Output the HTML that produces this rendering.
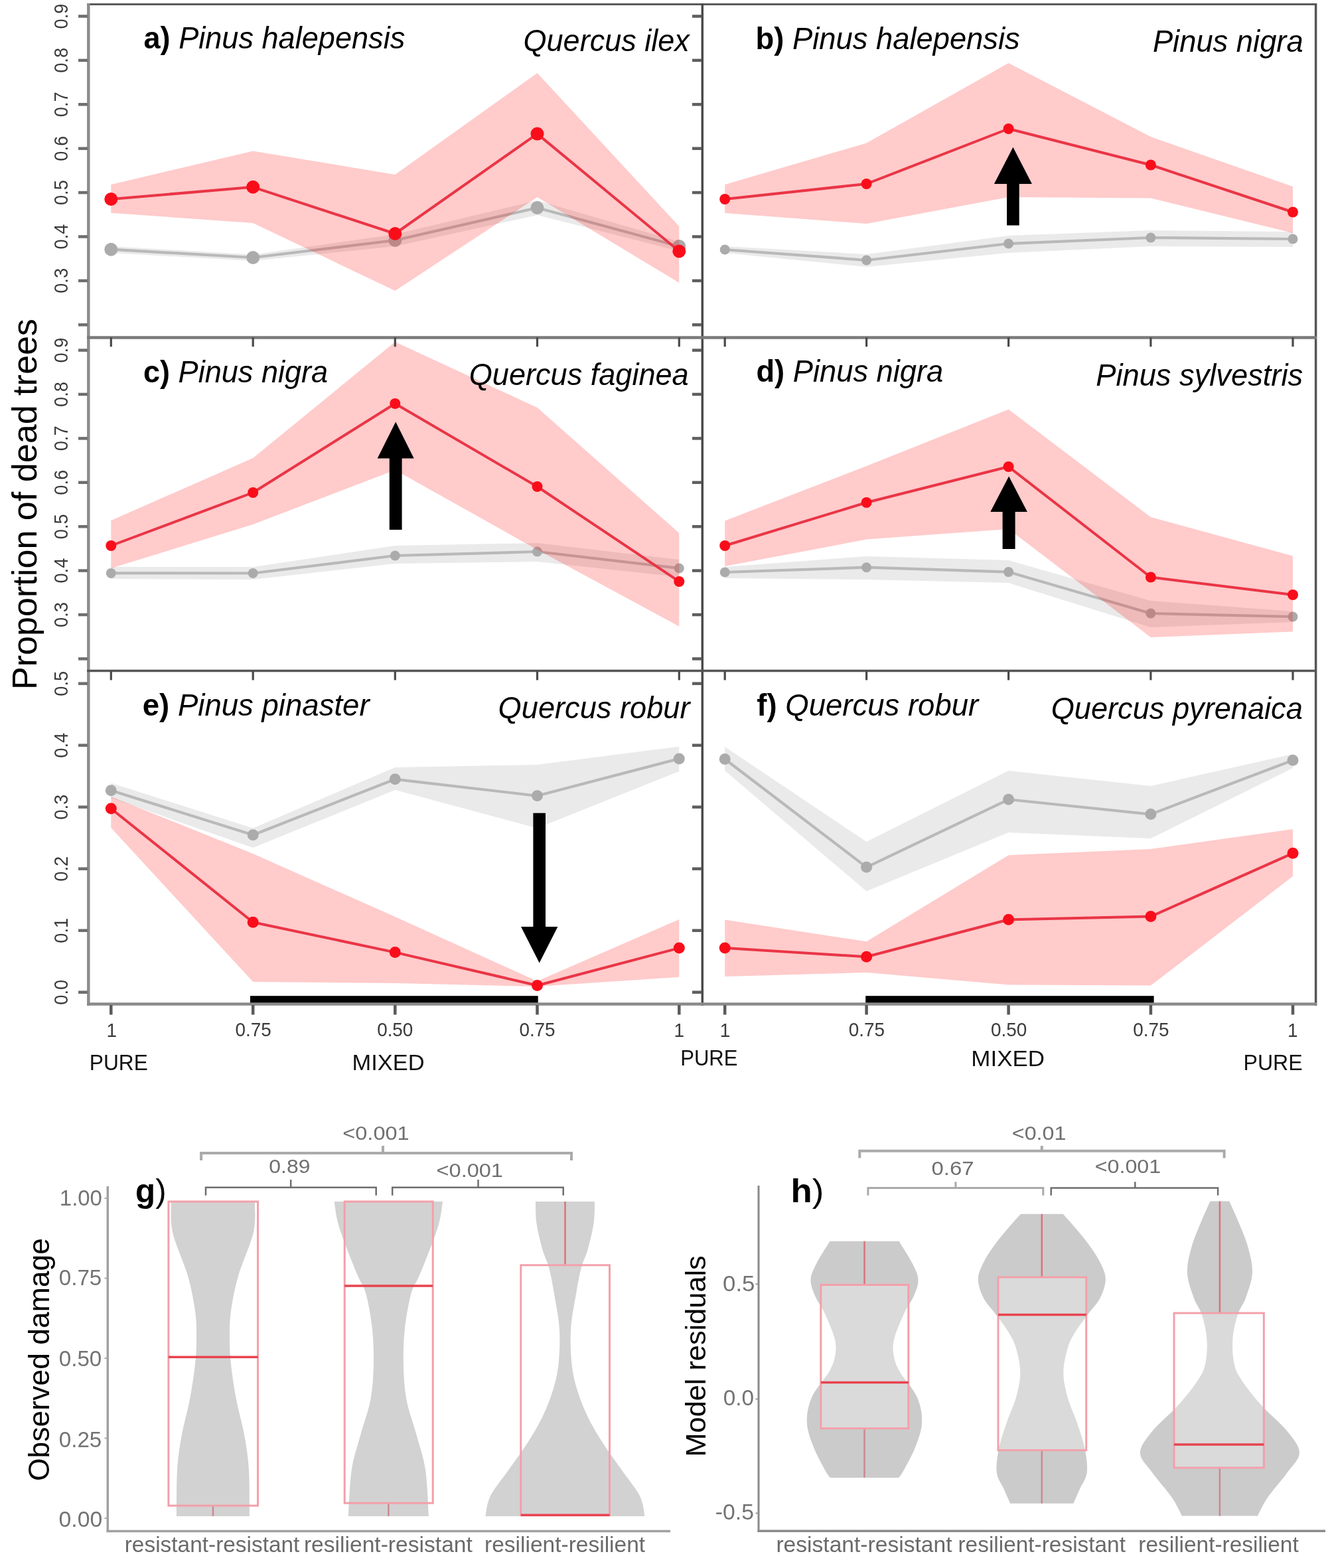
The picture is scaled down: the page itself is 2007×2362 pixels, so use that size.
<!DOCTYPE html><html><head><meta charset="utf-8"><title>Figure</title><style>html,body{margin:0;padding:0;background:#fff;}svg{display:block;}text{font-family:"Liberation Sans",Arial,sans-serif;}</style></head><body>
<svg width="2007" height="2362" viewBox="0 0 2007 2362">
<rect width="2007" height="2362" fill="#fff"/>
<g id="pa">
<polygon points="167.3,371.0 381.2,383.5 595.3,353.0 809.5,302.0 1023.3,364.0 1023.3,378.0 809.5,324.0 595.3,371.0 381.2,393.0 167.3,381.0" fill="#eaeaea" fill-opacity="1.0"/>
<polyline points="167.3,375.7 381.2,388.0 595.3,362.0 809.5,313.0 1023.3,371.0" fill="none" stroke="#b9b9b9" stroke-width="4.2" stroke-linejoin="round"/>
<circle cx="167.3" cy="375.7" r="10" fill="#ababab"/>
<circle cx="381.2" cy="388.0" r="10" fill="#ababab"/>
<circle cx="595.3" cy="362.0" r="10" fill="#ababab"/>
<circle cx="809.5" cy="313.0" r="10" fill="#ababab"/>
<circle cx="1023.3" cy="371.0" r="10" fill="#ababab"/>
<polygon points="167.3,278.0 381.2,227.5 595.3,263.0 809.5,110.0 1023.3,341.0 1023.3,426.0 809.5,297.0 595.3,438.0 381.2,336.0 167.3,320.7" fill="#ff0000" fill-opacity="0.205"/>
<polyline points="167.3,300.0 381.2,281.8 595.3,352.0 809.5,201.6 1023.3,378.4" fill="none" stroke="#ea3546" stroke-width="4" stroke-linejoin="round"/>
<circle cx="167.3" cy="300.0" r="10" fill="#fa0d1a"/>
<circle cx="381.2" cy="281.8" r="10" fill="#fa0d1a"/>
<circle cx="595.3" cy="352.0" r="10" fill="#fa0d1a"/>
<circle cx="809.5" cy="201.6" r="10" fill="#fa0d1a"/>
<circle cx="1023.3" cy="378.4" r="10" fill="#fa0d1a"/>
</g>
<g id="pb">
<polygon points="1092.2,371.0 1305.6,383.0 1519.6,355.0 1733.9,347.0 1948.0,349.0 1948.0,372.0 1733.9,371.0 1519.6,381.0 1305.6,402.0 1092.2,381.0" fill="#eaeaea" fill-opacity="1.0"/>
<polyline points="1092.2,376.0 1305.6,392.0 1519.6,367.0 1733.9,358.0 1948.0,360.0" fill="none" stroke="#b9b9b9" stroke-width="4.2" stroke-linejoin="round"/>
<circle cx="1092.2" cy="376.0" r="7.5" fill="#ababab"/>
<circle cx="1305.6" cy="392.0" r="7.5" fill="#ababab"/>
<circle cx="1519.6" cy="367.0" r="7.5" fill="#ababab"/>
<circle cx="1733.9" cy="358.0" r="7.5" fill="#ababab"/>
<circle cx="1948.0" cy="360.0" r="7.5" fill="#ababab"/>
<polygon points="1092.2,278.0 1305.6,215.5 1519.6,95.0 1733.9,206.0 1948.0,281.0 1948.0,351.0 1733.9,298.5 1519.6,297.0 1305.6,337.0 1092.2,321.0" fill="#ff0000" fill-opacity="0.205"/>
<polyline points="1092.2,300.0 1305.6,277.0 1519.6,194.0 1733.9,248.5 1948.0,319.5" fill="none" stroke="#ea3546" stroke-width="4" stroke-linejoin="round"/>
<circle cx="1092.2" cy="300.0" r="8" fill="#fa0d1a"/>
<circle cx="1305.6" cy="277.0" r="8" fill="#fa0d1a"/>
<circle cx="1519.6" cy="194.0" r="8" fill="#fa0d1a"/>
<circle cx="1733.9" cy="248.5" r="8" fill="#fa0d1a"/>
<circle cx="1948.0" cy="319.5" r="8" fill="#fa0d1a"/>
<polygon points="1526.4,221.8 1554.9,277.0 1535.7,277.0 1535.7,339.6 1517.1,339.6 1517.1,277.0 1497.9,277.0" fill="#000"/>
</g>
<g id="pc">
<polygon points="167.3,854.0 381.2,854.0 595.3,822.0 809.5,818.0 1023.3,843.0 1023.3,869.0 809.5,846.0 595.3,849.0 381.2,873.0 167.3,872.0" fill="#eaeaea" fill-opacity="1.0"/>
<polyline points="167.3,863.4 381.2,863.5 595.3,837.0 809.5,831.0 1023.3,856.0" fill="none" stroke="#b9b9b9" stroke-width="4.2" stroke-linejoin="round"/>
<circle cx="167.3" cy="863.4" r="7.5" fill="#ababab"/>
<circle cx="381.2" cy="863.5" r="7.5" fill="#ababab"/>
<circle cx="595.3" cy="837.0" r="7.5" fill="#ababab"/>
<circle cx="809.5" cy="831.0" r="7.5" fill="#ababab"/>
<circle cx="1023.3" cy="856.0" r="7.5" fill="#ababab"/>
<polygon points="167.3,784.0 381.2,690.0 595.3,515.0 809.5,614.0 1023.3,803.0 1023.3,943.6 809.5,828.0 595.3,708.0 381.2,790.0 167.3,856.0" fill="#ff0000" fill-opacity="0.205"/>
<polyline points="167.3,822.0 381.2,742.0 595.3,608.0 809.5,733.0 1023.3,876.0" fill="none" stroke="#ea3546" stroke-width="4" stroke-linejoin="round"/>
<circle cx="167.3" cy="822.0" r="8" fill="#fa0d1a"/>
<circle cx="381.2" cy="742.0" r="8" fill="#fa0d1a"/>
<circle cx="595.3" cy="608.0" r="8" fill="#fa0d1a"/>
<circle cx="809.5" cy="733.0" r="8" fill="#fa0d1a"/>
<circle cx="1023.3" cy="876.0" r="8" fill="#fa0d1a"/>
<polygon points="596.2,635.4 623.7,690.5 605.6,690.5 605.6,798.0 586.8,798.0 586.8,690.5 568.7,690.5" fill="#000"/>
</g>
<g id="pd">
<polygon points="1092.2,854.0 1305.6,838.0 1519.6,844.0 1733.9,905.0 1948.0,921.0 1948.0,937.0 1733.9,945.0 1519.6,878.0 1305.6,873.0 1092.2,871.0" fill="#eaeaea" fill-opacity="1.0"/>
<polyline points="1092.2,862.0 1305.6,854.7 1519.6,861.6 1733.9,924.0 1948.0,929.0" fill="none" stroke="#b9b9b9" stroke-width="4.2" stroke-linejoin="round"/>
<circle cx="1092.2" cy="862.0" r="7.5" fill="#ababab"/>
<circle cx="1305.6" cy="854.7" r="7.5" fill="#ababab"/>
<circle cx="1519.6" cy="861.6" r="7.5" fill="#ababab"/>
<circle cx="1733.9" cy="924.0" r="7.5" fill="#ababab"/>
<circle cx="1948.0" cy="929.0" r="7.5" fill="#ababab"/>
<polygon points="1092.2,784.5 1305.6,702.0 1519.6,616.7 1733.9,779.0 1948.0,837.5 1948.0,951.5 1733.9,960.0 1519.6,797.0 1305.6,812.5 1092.2,853.0" fill="#ff0000" fill-opacity="0.205"/>
<polyline points="1092.2,822.0 1305.6,757.0 1519.6,703.0 1733.9,869.5 1948.0,896.0" fill="none" stroke="#ea3546" stroke-width="4" stroke-linejoin="round"/>
<circle cx="1092.2" cy="822.0" r="8" fill="#fa0d1a"/>
<circle cx="1305.6" cy="757.0" r="8" fill="#fa0d1a"/>
<circle cx="1519.6" cy="703.0" r="8" fill="#fa0d1a"/>
<circle cx="1733.9" cy="869.5" r="8" fill="#fa0d1a"/>
<circle cx="1948.0" cy="896.0" r="8" fill="#fa0d1a"/>
<polygon points="1520.1,717.6 1547.9,771.0 1529.6,771.0 1529.6,827.0 1510.6,827.0 1510.6,771.0 1492.3,771.0" fill="#000"/>
</g>
<g id="pe">
<polygon points="167.3,1179.5 381.2,1247.5 595.3,1156.0 809.5,1152.0 1023.3,1124.5 1023.3,1162.0 809.5,1247.5 595.3,1190.0 381.2,1277.0 167.3,1202.0" fill="#eaeaea" fill-opacity="1.0"/>
<polyline points="167.3,1190.8 381.2,1257.7 595.3,1173.8 809.5,1198.8 1023.3,1142.9" fill="none" stroke="#b9b9b9" stroke-width="4.2" stroke-linejoin="round"/>
<circle cx="167.3" cy="1190.8" r="8.5" fill="#ababab"/>
<circle cx="381.2" cy="1257.7" r="8.5" fill="#ababab"/>
<circle cx="595.3" cy="1173.8" r="8.5" fill="#ababab"/>
<circle cx="809.5" cy="1198.8" r="8.5" fill="#ababab"/>
<circle cx="1023.3" cy="1142.9" r="8.5" fill="#ababab"/>
<polygon points="167.3,1200.0 381.2,1286.0 595.3,1381.0 809.5,1478.0 1023.3,1385.0 1023.3,1472.0 809.5,1486.0 595.3,1481.0 381.2,1479.0 167.3,1247.0" fill="#ff0000" fill-opacity="0.205"/>
<polyline points="167.3,1218.0 381.2,1389.2 595.3,1434.6 809.5,1484.5 1023.3,1428.1" fill="none" stroke="#ea3546" stroke-width="4" stroke-linejoin="round"/>
<circle cx="167.3" cy="1218.0" r="8.5" fill="#fa0d1a"/>
<circle cx="381.2" cy="1389.2" r="8.5" fill="#fa0d1a"/>
<circle cx="595.3" cy="1434.6" r="8.5" fill="#fa0d1a"/>
<circle cx="809.5" cy="1484.5" r="8.5" fill="#fa0d1a"/>
<circle cx="1023.3" cy="1428.1" r="8.5" fill="#fa0d1a"/>
<polygon points="812.7,1450.5 840.4,1396.0 822.0,1396.0 822.0,1224.8 803.4,1224.8 803.4,1396.0 785.0,1396.0" fill="#000"/>
<rect x="377" y="1500.2" width="433.7" height="12" fill="#000"/>
</g>
<g id="pf">
<polygon points="1092.2,1125.0 1305.6,1268.0 1519.6,1161.0 1733.9,1184.0 1948.0,1136.0 1948.0,1157.0 1733.9,1263.0 1519.6,1254.0 1305.6,1342.6 1092.2,1161.0" fill="#eaeaea" fill-opacity="1.0"/>
<polyline points="1092.2,1143.5 1305.6,1306.3 1519.6,1204.3 1733.9,1226.6 1948.0,1145.3" fill="none" stroke="#b9b9b9" stroke-width="4.2" stroke-linejoin="round"/>
<circle cx="1092.2" cy="1143.5" r="8.5" fill="#ababab"/>
<circle cx="1305.6" cy="1306.3" r="8.5" fill="#ababab"/>
<circle cx="1519.6" cy="1204.3" r="8.5" fill="#ababab"/>
<circle cx="1733.9" cy="1226.6" r="8.5" fill="#ababab"/>
<circle cx="1948.0" cy="1145.3" r="8.5" fill="#ababab"/>
<polygon points="1092.2,1385.5 1305.6,1418.3 1519.6,1288.2 1733.9,1279.0 1948.0,1249.0 1948.0,1320.0 1733.9,1484.6 1519.6,1483.5 1305.6,1465.0 1092.2,1471.0" fill="#ff0000" fill-opacity="0.205"/>
<polyline points="1092.2,1427.9 1305.6,1441.3 1519.6,1385.3 1733.9,1380.6 1948.0,1285.3" fill="none" stroke="#ea3546" stroke-width="4" stroke-linejoin="round"/>
<circle cx="1092.2" cy="1427.9" r="8.5" fill="#fa0d1a"/>
<circle cx="1305.6" cy="1441.3" r="8.5" fill="#fa0d1a"/>
<circle cx="1519.6" cy="1385.3" r="8.5" fill="#fa0d1a"/>
<circle cx="1733.9" cy="1380.6" r="8.5" fill="#fa0d1a"/>
<circle cx="1948.0" cy="1285.3" r="8.5" fill="#fa0d1a"/>
<rect x="1304.2" y="1500.2" width="434.4" height="12" fill="#000"/>
</g>
<g stroke-linecap="butt">
<line x1="131" y1="6.5" x2="1984" y2="6.5" stroke="#5a5a5a" stroke-width="3"/>
<line x1="133.3" y1="5" x2="133.3" y2="1515" stroke="#8c8c8c" stroke-width="4.5"/>
<line x1="1058.3" y1="5" x2="1058.3" y2="1515" stroke="#4a4a4a" stroke-width="3.5"/>
<line x1="1982.6" y1="5" x2="1982.6" y2="1515" stroke="#555" stroke-width="3.5"/>
<line x1="131" y1="508.6" x2="1984" y2="508.6" stroke="#7a7a7a" stroke-width="4.5"/>
<line x1="131" y1="1010.5" x2="1984" y2="1010.5" stroke="#555" stroke-width="3.5"/>
<line x1="131" y1="1512.6" x2="1984" y2="1512.6" stroke="#8a8a8a" stroke-width="4.5"/>
</g>
<line x1="118.0" y1="24.5" x2="132.0" y2="24.5" stroke="#6e6e6e" stroke-width="4.5"/>
<line x1="118.0" y1="90.9" x2="132.0" y2="90.9" stroke="#6e6e6e" stroke-width="4.5"/>
<line x1="118.0" y1="157.3" x2="132.0" y2="157.3" stroke="#6e6e6e" stroke-width="4.5"/>
<line x1="118.0" y1="223.7" x2="132.0" y2="223.7" stroke="#6e6e6e" stroke-width="4.5"/>
<line x1="118.0" y1="290.1" x2="132.0" y2="290.1" stroke="#6e6e6e" stroke-width="4.5"/>
<line x1="118.0" y1="356.5" x2="132.0" y2="356.5" stroke="#6e6e6e" stroke-width="4.5"/>
<line x1="118.0" y1="422.9" x2="132.0" y2="422.9" stroke="#6e6e6e" stroke-width="4.5"/>
<line x1="118.0" y1="489.3" x2="132.0" y2="489.3" stroke="#6e6e6e" stroke-width="4.5"/>
<line x1="118.0" y1="527.6" x2="132.0" y2="527.6" stroke="#6e6e6e" stroke-width="4.5"/>
<line x1="118.0" y1="594.0" x2="132.0" y2="594.0" stroke="#6e6e6e" stroke-width="4.5"/>
<line x1="118.0" y1="660.4" x2="132.0" y2="660.4" stroke="#6e6e6e" stroke-width="4.5"/>
<line x1="118.0" y1="726.8" x2="132.0" y2="726.8" stroke="#6e6e6e" stroke-width="4.5"/>
<line x1="118.0" y1="793.2" x2="132.0" y2="793.2" stroke="#6e6e6e" stroke-width="4.5"/>
<line x1="118.0" y1="859.6" x2="132.0" y2="859.6" stroke="#6e6e6e" stroke-width="4.5"/>
<line x1="118.0" y1="926.0" x2="132.0" y2="926.0" stroke="#6e6e6e" stroke-width="4.5"/>
<line x1="118.0" y1="992.4" x2="132.0" y2="992.4" stroke="#6e6e6e" stroke-width="4.5"/>
<line x1="118.0" y1="1029.7" x2="132.0" y2="1029.7" stroke="#6e6e6e" stroke-width="4.5"/>
<line x1="118.0" y1="1122.7" x2="132.0" y2="1122.7" stroke="#6e6e6e" stroke-width="4.5"/>
<line x1="118.0" y1="1215.7" x2="132.0" y2="1215.7" stroke="#6e6e6e" stroke-width="4.5"/>
<line x1="118.0" y1="1308.7" x2="132.0" y2="1308.7" stroke="#6e6e6e" stroke-width="4.5"/>
<line x1="118.0" y1="1401.7" x2="132.0" y2="1401.7" stroke="#6e6e6e" stroke-width="4.5"/>
<line x1="118.0" y1="1494.7" x2="132.0" y2="1494.7" stroke="#6e6e6e" stroke-width="4.5"/>
<line x1="1043.0" y1="24.5" x2="1057.0" y2="24.5" stroke="#5e5e5e" stroke-width="4.5"/>
<line x1="1043.0" y1="90.9" x2="1057.0" y2="90.9" stroke="#5e5e5e" stroke-width="4.5"/>
<line x1="1043.0" y1="157.3" x2="1057.0" y2="157.3" stroke="#5e5e5e" stroke-width="4.5"/>
<line x1="1043.0" y1="223.7" x2="1057.0" y2="223.7" stroke="#5e5e5e" stroke-width="4.5"/>
<line x1="1043.0" y1="290.1" x2="1057.0" y2="290.1" stroke="#5e5e5e" stroke-width="4.5"/>
<line x1="1043.0" y1="356.5" x2="1057.0" y2="356.5" stroke="#5e5e5e" stroke-width="4.5"/>
<line x1="1043.0" y1="422.9" x2="1057.0" y2="422.9" stroke="#5e5e5e" stroke-width="4.5"/>
<line x1="1043.0" y1="489.3" x2="1057.0" y2="489.3" stroke="#5e5e5e" stroke-width="4.5"/>
<line x1="1043.0" y1="527.6" x2="1057.0" y2="527.6" stroke="#5e5e5e" stroke-width="4.5"/>
<line x1="1043.0" y1="594.0" x2="1057.0" y2="594.0" stroke="#5e5e5e" stroke-width="4.5"/>
<line x1="1043.0" y1="660.4" x2="1057.0" y2="660.4" stroke="#5e5e5e" stroke-width="4.5"/>
<line x1="1043.0" y1="726.8" x2="1057.0" y2="726.8" stroke="#5e5e5e" stroke-width="4.5"/>
<line x1="1043.0" y1="793.2" x2="1057.0" y2="793.2" stroke="#5e5e5e" stroke-width="4.5"/>
<line x1="1043.0" y1="859.6" x2="1057.0" y2="859.6" stroke="#5e5e5e" stroke-width="4.5"/>
<line x1="1043.0" y1="926.0" x2="1057.0" y2="926.0" stroke="#5e5e5e" stroke-width="4.5"/>
<line x1="1043.0" y1="992.4" x2="1057.0" y2="992.4" stroke="#5e5e5e" stroke-width="4.5"/>
<line x1="1043.0" y1="1029.7" x2="1057.0" y2="1029.7" stroke="#5e5e5e" stroke-width="4.5"/>
<line x1="1043.0" y1="1122.7" x2="1057.0" y2="1122.7" stroke="#5e5e5e" stroke-width="4.5"/>
<line x1="1043.0" y1="1215.7" x2="1057.0" y2="1215.7" stroke="#5e5e5e" stroke-width="4.5"/>
<line x1="1043.0" y1="1308.7" x2="1057.0" y2="1308.7" stroke="#5e5e5e" stroke-width="4.5"/>
<line x1="1043.0" y1="1401.7" x2="1057.0" y2="1401.7" stroke="#5e5e5e" stroke-width="4.5"/>
<line x1="1043.0" y1="1494.7" x2="1057.0" y2="1494.7" stroke="#5e5e5e" stroke-width="4.5"/>
<line x1="167.3" y1="508.3" x2="167.3" y2="522.3" stroke="#4a4a4a" stroke-width="3.2"/>
<line x1="381.2" y1="508.3" x2="381.2" y2="522.3" stroke="#4a4a4a" stroke-width="3.2"/>
<line x1="595.3" y1="508.3" x2="595.3" y2="522.3" stroke="#4a4a4a" stroke-width="3.2"/>
<line x1="809.5" y1="508.3" x2="809.5" y2="522.3" stroke="#4a4a4a" stroke-width="3.2"/>
<line x1="1023.3" y1="508.3" x2="1023.3" y2="522.3" stroke="#4a4a4a" stroke-width="3.2"/>
<line x1="1092.2" y1="508.3" x2="1092.2" y2="522.3" stroke="#4a4a4a" stroke-width="3.2"/>
<line x1="1305.6" y1="508.3" x2="1305.6" y2="522.3" stroke="#4a4a4a" stroke-width="3.2"/>
<line x1="1519.6" y1="508.3" x2="1519.6" y2="522.3" stroke="#4a4a4a" stroke-width="3.2"/>
<line x1="1733.9" y1="508.3" x2="1733.9" y2="522.3" stroke="#4a4a4a" stroke-width="3.2"/>
<line x1="1948.0" y1="508.3" x2="1948.0" y2="522.3" stroke="#4a4a4a" stroke-width="3.2"/>
<line x1="167.3" y1="1010.5" x2="167.3" y2="1024.5" stroke="#4a4a4a" stroke-width="3.2"/>
<line x1="381.2" y1="1010.5" x2="381.2" y2="1024.5" stroke="#4a4a4a" stroke-width="3.2"/>
<line x1="595.3" y1="1010.5" x2="595.3" y2="1024.5" stroke="#4a4a4a" stroke-width="3.2"/>
<line x1="809.5" y1="1010.5" x2="809.5" y2="1024.5" stroke="#4a4a4a" stroke-width="3.2"/>
<line x1="1023.3" y1="1010.5" x2="1023.3" y2="1024.5" stroke="#4a4a4a" stroke-width="3.2"/>
<line x1="1092.2" y1="1010.5" x2="1092.2" y2="1024.5" stroke="#4a4a4a" stroke-width="3.2"/>
<line x1="1305.6" y1="1010.5" x2="1305.6" y2="1024.5" stroke="#4a4a4a" stroke-width="3.2"/>
<line x1="1519.6" y1="1010.5" x2="1519.6" y2="1024.5" stroke="#4a4a4a" stroke-width="3.2"/>
<line x1="1733.9" y1="1010.5" x2="1733.9" y2="1024.5" stroke="#4a4a4a" stroke-width="3.2"/>
<line x1="1948.0" y1="1010.5" x2="1948.0" y2="1024.5" stroke="#4a4a4a" stroke-width="3.2"/>
<line x1="167.3" y1="1514.0" x2="167.3" y2="1528.5" stroke="#5a5a5a" stroke-width="4.5"/>
<line x1="381.2" y1="1514.0" x2="381.2" y2="1528.5" stroke="#5a5a5a" stroke-width="4.5"/>
<line x1="595.3" y1="1514.0" x2="595.3" y2="1528.5" stroke="#5a5a5a" stroke-width="4.5"/>
<line x1="809.5" y1="1514.0" x2="809.5" y2="1528.5" stroke="#5a5a5a" stroke-width="4.5"/>
<line x1="1023.3" y1="1514.0" x2="1023.3" y2="1528.5" stroke="#5a5a5a" stroke-width="4.5"/>
<line x1="1092.2" y1="1514.0" x2="1092.2" y2="1528.5" stroke="#5a5a5a" stroke-width="4.5"/>
<line x1="1305.6" y1="1514.0" x2="1305.6" y2="1528.5" stroke="#5a5a5a" stroke-width="4.5"/>
<line x1="1519.6" y1="1514.0" x2="1519.6" y2="1528.5" stroke="#5a5a5a" stroke-width="4.5"/>
<line x1="1733.9" y1="1514.0" x2="1733.9" y2="1528.5" stroke="#5a5a5a" stroke-width="4.5"/>
<line x1="1948.0" y1="1514.0" x2="1948.0" y2="1528.5" stroke="#5a5a5a" stroke-width="4.5"/>
<text transform="translate(101.5 24.5) rotate(-90) scale(0.94 1)" font-size="29" text-anchor="middle" fill="#3a3a3a">0.9</text>
<text transform="translate(101.5 527.6) rotate(-90) scale(0.94 1)" font-size="29" text-anchor="middle" fill="#3a3a3a">0.9</text>
<text transform="translate(101.5 90.9) rotate(-90) scale(0.94 1)" font-size="29" text-anchor="middle" fill="#3a3a3a">0.8</text>
<text transform="translate(101.5 594.0) rotate(-90) scale(0.94 1)" font-size="29" text-anchor="middle" fill="#3a3a3a">0.8</text>
<text transform="translate(101.5 157.3) rotate(-90) scale(0.94 1)" font-size="29" text-anchor="middle" fill="#3a3a3a">0.7</text>
<text transform="translate(101.5 660.4) rotate(-90) scale(0.94 1)" font-size="29" text-anchor="middle" fill="#3a3a3a">0.7</text>
<text transform="translate(101.5 223.7) rotate(-90) scale(0.94 1)" font-size="29" text-anchor="middle" fill="#3a3a3a">0.6</text>
<text transform="translate(101.5 726.8) rotate(-90) scale(0.94 1)" font-size="29" text-anchor="middle" fill="#3a3a3a">0.6</text>
<text transform="translate(101.5 290.1) rotate(-90) scale(0.94 1)" font-size="29" text-anchor="middle" fill="#3a3a3a">0.5</text>
<text transform="translate(101.5 793.2) rotate(-90) scale(0.94 1)" font-size="29" text-anchor="middle" fill="#3a3a3a">0.5</text>
<text transform="translate(101.5 356.5) rotate(-90) scale(0.94 1)" font-size="29" text-anchor="middle" fill="#3a3a3a">0.4</text>
<text transform="translate(101.5 859.6) rotate(-90) scale(0.94 1)" font-size="29" text-anchor="middle" fill="#3a3a3a">0.4</text>
<text transform="translate(101.5 422.9) rotate(-90) scale(0.94 1)" font-size="29" text-anchor="middle" fill="#3a3a3a">0.3</text>
<text transform="translate(101.5 926.0) rotate(-90) scale(0.94 1)" font-size="29" text-anchor="middle" fill="#3a3a3a">0.3</text>
<text transform="translate(101.5 1029.7) rotate(-90) scale(0.94 1)" font-size="29" text-anchor="middle" fill="#3a3a3a">0.5</text>
<text transform="translate(101.5 1122.7) rotate(-90) scale(0.94 1)" font-size="29" text-anchor="middle" fill="#3a3a3a">0.4</text>
<text transform="translate(101.5 1215.7) rotate(-90) scale(0.94 1)" font-size="29" text-anchor="middle" fill="#3a3a3a">0.3</text>
<text transform="translate(101.5 1308.7) rotate(-90) scale(0.94 1)" font-size="29" text-anchor="middle" fill="#3a3a3a">0.2</text>
<text transform="translate(101.5 1401.7) rotate(-90) scale(0.94 1)" font-size="29" text-anchor="middle" fill="#3a3a3a">0.1</text>
<text transform="translate(101.5 1494.7) rotate(-90) scale(0.94 1)" font-size="29" text-anchor="middle" fill="#3a3a3a">0.0</text>
<text transform="translate(54.8 1039) rotate(-90)" font-size="52.1" fill="#000">Proportion of dead trees</text>
<path d="M384.0,1810.0 C383.7,1817.7 386.2,1837.3 382.0,1856.0 C377.8,1874.7 364.7,1902.2 359.0,1922.0 C353.3,1941.8 350.2,1959.5 348.0,1975.0 C345.8,1990.5 346.0,2001.7 346.0,2015.0 C346.0,2028.3 346.3,2039.5 348.0,2055.0 C349.7,2070.5 352.7,2090.3 356.0,2108.0 C359.3,2125.7 364.8,2143.3 368.0,2161.0 C371.2,2178.7 373.7,2193.5 375.0,2214.0 C376.3,2234.5 375.8,2272.3 376.0,2284.0 L266.0,2284.0 C266.2,2272.3 265.7,2234.5 267.0,2214.0 C268.3,2193.5 270.8,2178.7 274.0,2161.0 C277.2,2143.3 282.7,2125.7 286.0,2108.0 C289.3,2090.3 292.3,2070.5 294.0,2055.0 C295.7,2039.5 296.0,2028.3 296.0,2015.0 C296.0,2001.7 296.2,1990.5 294.0,1975.0 C291.8,1959.5 288.7,1941.8 283.0,1922.0 C277.3,1902.2 264.2,1874.7 260.0,1856.0 C255.8,1837.3 258.3,1817.7 258.0,1810.0 Z" fill="#d2d2d2"/>
<path d="M667.1,1810.0 C666.1,1815.5 664.7,1830.9 661.4,1843.0 C658.1,1855.1 652.4,1869.5 647.4,1882.7 C642.4,1896.0 636.1,1911.5 631.4,1922.5 C626.7,1933.5 623.0,1935.8 619.4,1949.0 C615.8,1962.2 611.8,1984.3 609.9,2002.0 C608.0,2019.7 607.5,2037.3 607.9,2055.0 C608.3,2072.7 609.1,2090.3 612.4,2108.0 C615.6,2125.7 622.6,2143.3 627.4,2161.0 C632.2,2178.7 637.9,2193.5 641.0,2214.0 C644.1,2234.5 645.2,2272.3 646.0,2284.0 L524.8,2284.0 C525.6,2272.3 526.7,2234.5 529.8,2214.0 C532.9,2193.5 538.6,2178.7 543.4,2161.0 C548.2,2143.3 555.1,2125.7 558.4,2108.0 C561.6,2090.3 562.5,2072.7 562.9,2055.0 C563.3,2037.3 562.8,2019.7 560.9,2002.0 C559.0,1984.3 555.0,1962.2 551.4,1949.0 C547.8,1935.8 544.1,1933.5 539.4,1922.5 C534.7,1911.5 528.4,1896.0 523.4,1882.7 C518.4,1869.5 512.7,1855.1 509.4,1843.0 C506.1,1830.9 504.6,1815.5 503.7,1810.0 Z" fill="#d2d2d2"/>
<path d="M896.1,1810.0 C895.8,1815.5 896.3,1830.9 894.5,1843.0 C892.7,1855.1 888.6,1871.7 885.5,1882.7 C882.4,1893.7 878.9,1898.0 876.0,1909.0 C873.1,1920.0 870.6,1933.5 868.0,1949.0 C865.4,1964.5 861.2,1984.3 860.1,2002.0 C859.0,2019.7 859.9,2039.6 861.5,2055.0 C863.1,2070.4 866.0,2081.4 870.0,2094.6 C874.0,2107.8 879.1,2120.8 885.5,2134.0 C891.9,2147.2 900.0,2160.7 908.5,2174.0 C917.0,2187.3 927.2,2200.7 936.5,2214.0 C945.8,2227.3 958.3,2241.9 964.1,2253.6 C969.9,2265.3 970.3,2278.9 971.5,2284.0 L731.5,2284.0 C732.7,2278.9 733.1,2265.3 738.9,2253.6 C744.7,2241.9 757.2,2227.3 766.5,2214.0 C775.8,2200.7 786.0,2187.3 794.5,2174.0 C803.0,2160.7 811.1,2147.2 817.5,2134.0 C823.9,2120.8 829.0,2107.8 833.0,2094.6 C837.0,2081.4 839.9,2070.4 841.5,2055.0 C843.1,2039.6 844.0,2019.7 842.9,2002.0 C841.8,1984.3 837.6,1964.5 835.0,1949.0 C832.4,1933.5 829.9,1920.0 827.0,1909.0 C824.1,1898.0 820.6,1893.7 817.5,1882.7 C814.4,1871.7 810.3,1855.1 808.5,1843.0 C806.7,1830.9 807.2,1815.5 806.9,1810.0 Z" fill="#d2d2d2"/>
<line x1="321" y1="2268.1" x2="321" y2="2284" stroke="#c98a90" stroke-width="2.5"/>
<rect x="253.9" y="1810" width="134.6" height="458.0999999999999" fill="#fff" fill-opacity="0.0" stroke="#f3a0aa" stroke-width="3"/>
<line x1="253.9" y1="2044.3" x2="388.5" y2="2044.3" stroke="#e8434f" stroke-width="3.5"/>
<line x1="585.4" y1="2264.2" x2="585.4" y2="2284" stroke="#c98a90" stroke-width="2.5"/>
<rect x="519.2" y="1810" width="133.0" height="454.1999999999998" fill="#fff" fill-opacity="0.0" stroke="#f3a0aa" stroke-width="3"/>
<line x1="519.2" y1="1937" x2="652.2" y2="1937" stroke="#e8434f" stroke-width="3.5"/>
<line x1="851.5" y1="1810" x2="851.5" y2="1905.8" stroke="#d9737d" stroke-width="2.5"/>
<rect x="784.8" y="1905.8" width="133.70000000000005" height="376.89999999999986" fill="#fff" fill-opacity="0.0" stroke="#f3a0aa" stroke-width="3"/>
<line x1="784.8" y1="2282.2" x2="918.5" y2="2282.2" stroke="#e8434f" stroke-width="3.5"/>
<path d="M1354.5,1869.7 C1357.8,1875.2 1369.7,1893.1 1374.5,1902.8 C1379.3,1912.5 1383.2,1919.6 1383.5,1928.0 C1383.8,1936.4 1380.0,1944.7 1376.5,1953.0 C1373.0,1961.3 1367.3,1967.5 1362.5,1978.0 C1357.7,1988.5 1350.2,2005.5 1347.5,2016.0 C1344.8,2026.5 1345.2,2032.7 1346.5,2041.0 C1347.8,2049.3 1349.7,2055.5 1355.5,2066.0 C1361.3,2076.5 1375.9,2091.4 1381.5,2104.0 C1387.1,2116.6 1389.5,2129.2 1389.2,2141.7 C1388.9,2154.2 1384.3,2166.4 1379.5,2179.0 C1374.7,2191.6 1364.8,2209.2 1360.5,2217.0 C1356.2,2224.8 1355.1,2224.4 1354.0,2225.9 L1251.0,2225.9 C1249.9,2224.4 1248.8,2224.8 1244.5,2217.0 C1240.2,2209.2 1230.3,2191.6 1225.5,2179.0 C1220.7,2166.4 1216.1,2154.2 1215.8,2141.7 C1215.5,2129.2 1217.9,2116.6 1223.5,2104.0 C1229.1,2091.4 1243.7,2076.5 1249.5,2066.0 C1255.3,2055.5 1257.2,2049.3 1258.5,2041.0 C1259.8,2032.7 1260.2,2026.5 1257.5,2016.0 C1254.8,2005.5 1247.3,1988.5 1242.5,1978.0 C1237.7,1967.5 1232.0,1961.3 1228.5,1953.0 C1225.0,1944.7 1221.2,1936.4 1221.5,1928.0 C1221.8,1919.6 1225.7,1912.5 1230.5,1902.8 C1235.3,1893.1 1247.2,1875.2 1250.5,1869.7 Z" fill="#cbcbcb"/>
<path d="M1601.8,1828.8 C1605.6,1833.2 1617.7,1846.5 1624.8,1855.0 C1631.9,1863.5 1638.5,1871.7 1644.3,1880.0 C1650.0,1888.3 1655.7,1897.0 1659.3,1905.0 C1662.9,1913.0 1666.0,1919.5 1665.8,1927.8 C1665.5,1936.1 1662.3,1946.2 1657.8,1955.0 C1653.3,1963.8 1645.0,1972.0 1638.8,1980.4 C1632.6,1988.8 1625.8,1997.2 1620.8,2005.5 C1615.8,2013.8 1611.9,2020.1 1608.8,2030.5 C1605.7,2040.9 1602.3,2055.5 1602.3,2068.0 C1602.3,2080.5 1605.4,2093.1 1608.8,2105.6 C1612.2,2118.1 1618.5,2130.5 1622.8,2143.0 C1627.0,2155.5 1631.8,2168.3 1634.3,2180.8 C1636.8,2193.3 1639.0,2207.6 1637.8,2218.0 C1636.5,2228.4 1630.2,2235.6 1626.8,2243.4 C1623.4,2251.2 1619.0,2261.1 1617.4,2264.7 L1522.2,2264.7 C1520.6,2261.1 1516.2,2251.2 1512.8,2243.4 C1509.4,2235.6 1503.0,2228.4 1501.8,2218.0 C1500.5,2207.6 1502.8,2193.3 1505.3,2180.8 C1507.8,2168.3 1512.5,2155.5 1516.8,2143.0 C1521.0,2130.5 1527.4,2118.1 1530.8,2105.6 C1534.2,2093.1 1537.3,2080.5 1537.3,2068.0 C1537.3,2055.5 1533.9,2040.9 1530.8,2030.5 C1527.7,2020.1 1523.8,2013.8 1518.8,2005.5 C1513.8,1997.2 1507.0,1988.8 1500.8,1980.4 C1494.6,1972.0 1486.3,1963.8 1481.8,1955.0 C1477.3,1946.2 1474.0,1936.1 1473.8,1927.8 C1473.5,1919.5 1476.7,1913.0 1480.3,1905.0 C1483.9,1897.0 1489.5,1888.3 1495.3,1880.0 C1501.0,1871.7 1507.7,1863.5 1514.8,1855.0 C1521.9,1846.5 1534.0,1833.2 1537.8,1828.8 Z" fill="#cbcbcb"/>
<path d="M1852.3,1809.6 C1854.7,1815.1 1862.1,1830.8 1866.9,1842.6 C1871.7,1854.4 1877.6,1867.7 1880.9,1880.2 C1884.2,1892.7 1887.6,1905.3 1886.9,1917.8 C1886.2,1930.3 1880.6,1945.0 1876.9,1955.4 C1873.2,1965.8 1868.2,1970.0 1864.9,1980.4 C1861.6,1990.8 1858.1,2005.5 1857.3,2018.0 C1856.5,2030.5 1857.5,2045.1 1859.9,2055.6 C1862.3,2066.0 1864.9,2070.2 1871.9,2080.7 C1878.9,2091.1 1890.7,2105.8 1901.9,2118.3 C1913.2,2130.8 1930.1,2144.1 1939.4,2155.8 C1948.7,2167.5 1957.9,2178.0 1957.9,2188.4 C1957.9,2198.8 1947.4,2207.2 1939.4,2218.5 C1931.4,2229.8 1917.3,2245.2 1909.9,2256.0 C1902.5,2266.8 1897.4,2279.0 1894.9,2283.6 L1780.9,2283.6 C1778.4,2279.0 1773.3,2266.8 1765.9,2256.0 C1758.5,2245.2 1744.4,2229.8 1736.4,2218.5 C1728.4,2207.2 1717.9,2198.8 1717.9,2188.4 C1717.9,2178.0 1727.1,2167.5 1736.4,2155.8 C1745.7,2144.1 1762.7,2130.8 1773.9,2118.3 C1785.2,2105.8 1796.9,2091.1 1803.9,2080.7 C1810.9,2070.2 1813.5,2066.0 1815.9,2055.6 C1818.3,2045.1 1819.3,2030.5 1818.5,2018.0 C1817.7,2005.5 1814.2,1990.8 1810.9,1980.4 C1807.6,1970.0 1802.6,1965.8 1798.9,1955.4 C1795.2,1945.0 1789.6,1930.3 1788.9,1917.8 C1788.2,1905.3 1791.6,1892.7 1794.9,1880.2 C1798.2,1867.7 1804.1,1854.4 1808.9,1842.6 C1813.7,1830.8 1821.1,1815.1 1823.5,1809.6 Z" fill="#cbcbcb"/>
<line x1="1302.5" y1="1869.7" x2="1302.5" y2="1935.5" stroke="#d9737d" stroke-width="2.5"/>
<line x1="1302.5" y1="2151.7" x2="1302.5" y2="2225.9" stroke="#c98a90" stroke-width="2.5"/>
<rect x="1236.8" y="1935.5" width="132.0" height="216.19999999999982" fill="#fff" fill-opacity="0.3" stroke="#f3a0aa" stroke-width="3"/>
<line x1="1236.8" y1="2082.6" x2="1368.8" y2="2082.6" stroke="#e8434f" stroke-width="3.5"/>
<line x1="1569.8" y1="1828.8" x2="1569.8" y2="1924" stroke="#d9737d" stroke-width="2.5"/>
<line x1="1569.8" y1="2184.6" x2="1569.8" y2="2264.7" stroke="#c98a90" stroke-width="2.5"/>
<rect x="1504" y="1924" width="132.70000000000005" height="260.5999999999999" fill="#fff" fill-opacity="0.3" stroke="#f3a0aa" stroke-width="3"/>
<line x1="1504" y1="1980.4" x2="1636.7" y2="1980.4" stroke="#e8434f" stroke-width="3.5"/>
<line x1="1837.9" y1="1809.6" x2="1837.9" y2="1978" stroke="#d9737d" stroke-width="2.5"/>
<line x1="1837.9" y1="2211" x2="1837.9" y2="2283.6" stroke="#c98a90" stroke-width="2.5"/>
<rect x="1769" y="1978" width="135.29999999999995" height="233" fill="#fff" fill-opacity="0.3" stroke="#f3a0aa" stroke-width="3"/>
<line x1="1769" y1="2175.9" x2="1904.3" y2="2175.9" stroke="#e8434f" stroke-width="3.5"/>
<line x1="162.3" y1="1787" x2="162.3" y2="2308" stroke="#a0a0a0" stroke-width="3.5"/>
<line x1="160.5" y1="2306.6" x2="1010" y2="2306.6" stroke="#a0a0a0" stroke-width="3.5"/>
<line x1="157.5" y1="1805" x2="161" y2="1805" stroke="#aaa" stroke-width="2"/>
<line x1="157.5" y1="1925.5" x2="161" y2="1925.5" stroke="#aaa" stroke-width="2"/>
<line x1="157.5" y1="2046" x2="161" y2="2046" stroke="#aaa" stroke-width="2"/>
<line x1="157.5" y1="2166.5" x2="161" y2="2166.5" stroke="#aaa" stroke-width="2"/>
<line x1="157.5" y1="2287" x2="161" y2="2287" stroke="#aaa" stroke-width="2"/>
<text transform="translate(74.2 2231) rotate(-90)" font-size="44.5" fill="#000">Observed damage</text>
<line x1="1143" y1="1786" x2="1143" y2="2308" stroke="#8a8a8a" stroke-width="3"/>
<line x1="1141.5" y1="2306.3" x2="1997" y2="2306.3" stroke="#8a8a8a" stroke-width="3.5"/>
<line x1="1138.5" y1="1934.3" x2="1142" y2="1934.3" stroke="#999" stroke-width="2"/>
<line x1="1138.5" y1="2107.5" x2="1142" y2="2107.5" stroke="#999" stroke-width="2"/>
<line x1="1138.5" y1="2279.5" x2="1142" y2="2279.5" stroke="#999" stroke-width="2"/>
<text transform="translate(1063 2194.5) rotate(-90)" font-size="43.3" fill="#000">Model residuals</text>
<polyline points="303.1,1748 303.1,1737.1 861,1737.1 861,1748" fill="none" stroke="#aaaaaa" stroke-width="4"/>
<line x1="577" y1="1737.1" x2="577" y2="1726" stroke="#aaaaaa" stroke-width="4"/>
<polyline points="310,1800.7 310,1788.8 566.7,1788.8 566.7,1800.7" fill="none" stroke="#6e6e6e" stroke-width="2.5"/>
<line x1="438.2" y1="1788.8" x2="438.2" y2="1777" stroke="#6e6e6e" stroke-width="2.5"/>
<polyline points="591.2,1800.7 591.2,1788.8 848.7,1788.8 848.7,1800.7" fill="none" stroke="#6e6e6e" stroke-width="2.5"/>
<line x1="720.5" y1="1788.8" x2="720.5" y2="1777" stroke="#6e6e6e" stroke-width="2.5"/>
<polyline points="1295.3,1744.6 1295.3,1733.7 1844.6,1733.7 1844.6,1744.6" fill="none" stroke="#aaaaaa" stroke-width="4"/>
<line x1="1569.8" y1="1733.7" x2="1569.8" y2="1726" stroke="#aaaaaa" stroke-width="4"/>
<polyline points="1307.9,1800.7 1307.9,1789.5 1571.8,1789.5 1571.8,1800.7" fill="none" stroke="#aaaaaa" stroke-width="3"/>
<line x1="1439.9" y1="1789.5" x2="1439.9" y2="1780.3" stroke="#aaaaaa" stroke-width="3"/>
<polyline points="1583.7,1800.7 1583.7,1789.5 1835.1,1789.5 1835.1,1800.7" fill="none" stroke="#6e6e6e" stroke-width="2.5"/>
<line x1="1710.3" y1="1789.5" x2="1710.3" y2="1780.3" stroke="#6e6e6e" stroke-width="2.5"/>
<text transform="translate(168.34 1561.50) scale(0.9612 1)" font-size="29" text-anchor="middle" fill="#3c3c3c">1</text>
<text transform="translate(381.71 1560.70) scale(0.9612 1)" font-size="29" text-anchor="middle" fill="#3c3c3c">0.75</text>
<text transform="translate(595.25 1560.70) scale(0.9612 1)" font-size="29" text-anchor="middle" fill="#3c3c3c">0.50</text>
<text transform="translate(809.50 1560.70) scale(0.9612 1)" font-size="29" text-anchor="middle" fill="#3c3c3c">0.75</text>
<text transform="translate(1023.32 1561.50) scale(0.9612 1)" font-size="29" text-anchor="middle" fill="#3c3c3c">1</text>
<text transform="translate(1092.45 1561.50) scale(0.9612 1)" font-size="29" text-anchor="middle" fill="#3c3c3c">1</text>
<text transform="translate(1305.93 1560.70) scale(0.9612 1)" font-size="29" text-anchor="middle" fill="#3c3c3c">0.75</text>
<text transform="translate(1520.12 1560.70) scale(0.9612 1)" font-size="29" text-anchor="middle" fill="#3c3c3c">0.50</text>
<text transform="translate(1734.44 1560.70) scale(0.9612 1)" font-size="29" text-anchor="middle" fill="#3c3c3c">0.75</text>
<text transform="translate(1947.80 1561.50) scale(0.9612 1)" font-size="29" text-anchor="middle" fill="#3c3c3c">1</text>
<text transform="translate(178.83 1611.90) scale(0.9313 1)" font-size="34" text-anchor="middle" fill="#111">PURE</text>
<text transform="translate(585.06 1611.90) scale(1.0126 1)" font-size="34" text-anchor="middle" fill="#111">MIXED</text>
<text transform="translate(1068.35 1604.80) scale(0.9135 1)" font-size="34" text-anchor="middle" fill="#111">PURE</text>
<text transform="translate(1518.69 1605.60) scale(1.0281 1)" font-size="34" text-anchor="middle" fill="#111">MIXED</text>
<text transform="translate(1918.03 1612.00) scale(0.9429 1)" font-size="34" text-anchor="middle" fill="#111">PURE</text>
<text transform="translate(216.50 73.30) scale(0.9812 1)" font-size="46" text-anchor="start" fill="#000"><tspan font-weight="bold">a)</tspan> <tspan font-style="italic">Pinus halepensis</tspan></text>
<text transform="translate(1038.83 77.00) scale(0.9793 1)" font-size="46" text-anchor="end" fill="#000" font-style="italic">Quercus ilex</text>
<text transform="translate(1138.60 74.20) scale(0.9860 1)" font-size="46" text-anchor="start" fill="#000"><tspan font-weight="bold">b)</tspan> <tspan font-style="italic">Pinus halepensis</tspan></text>
<text transform="translate(1963.64 78.00) scale(0.9855 1)" font-size="46" text-anchor="end" fill="#000" font-style="italic">Pinus nigra</text>
<text transform="translate(215.91 576.10) scale(0.9807 1)" font-size="46" text-anchor="start" fill="#000"><tspan font-weight="bold">c)</tspan> <tspan font-style="italic">Pinus nigra</tspan></text>
<text transform="translate(1037.70 579.70) scale(0.9808 1)" font-size="46" text-anchor="end" fill="#000" font-style="italic">Quercus faginea</text>
<text transform="translate(1139.47 575.40) scale(0.9844 1)" font-size="46" text-anchor="start" fill="#000"><tspan font-weight="bold">d)</tspan> <tspan font-style="italic">Pinus nigra</tspan></text>
<text transform="translate(1963.12 580.70) scale(0.9843 1)" font-size="46" text-anchor="end" fill="#000" font-style="italic">Pinus sylvestris</text>
<text transform="translate(214.75 1077.60) scale(0.9907 1)" font-size="46" text-anchor="start" fill="#000"><tspan font-weight="bold">e)</tspan> <tspan font-style="italic">Pinus pinaster</tspan></text>
<text transform="translate(1039.46 1081.90) scale(0.9827 1)" font-size="46" text-anchor="end" fill="#000" font-style="italic">Quercus robur</text>
<text transform="translate(1140.30 1078.10) scale(0.9896 1)" font-size="46" text-anchor="start" fill="#000"><tspan font-weight="bold">f)</tspan> <tspan font-style="italic">Quercus robur</tspan></text>
<text transform="translate(1962.79 1082.50) scale(0.9824 1)" font-size="46" text-anchor="end" fill="#000" font-style="italic">Quercus pyrenaica</text>
<text transform="translate(153.94 1816.20) scale(0.9837 1)" font-size="33.5" text-anchor="end" fill="#737373">1.00</text>
<text transform="translate(153.29 1935.50) scale(0.9908 1)" font-size="33.5" text-anchor="end" fill="#737373">0.75</text>
<text transform="translate(153.29 2057.50) scale(0.9908 1)" font-size="33.5" text-anchor="end" fill="#737373">0.50</text>
<text transform="translate(153.29 2180.10) scale(0.9908 1)" font-size="33.5" text-anchor="end" fill="#737373">0.25</text>
<text transform="translate(154.26 2300.00) scale(1.0080 1)" font-size="33.5" text-anchor="end" fill="#737373">0.00</text>
<text transform="translate(204.08 1811.10) scale(0.9852 1)" font-size="50" text-anchor="start" fill="#000"><tspan font-weight="bold">g</tspan>)</text>
<text transform="translate(319.58 2338.30) scale(1.0283 1)" font-size="32.5" text-anchor="middle" fill="#6a6a6a">resistant-resistant</text>
<text transform="translate(584.88 2338.20) scale(1.0339 1)" font-size="32.5" text-anchor="middle" fill="#6a6a6a">resilient-resistant</text>
<text transform="translate(851.08 2338.30) scale(1.0310 1)" font-size="32.5" text-anchor="middle" fill="#6a6a6a">resilient-resilient</text>
<text transform="translate(1137.43 1945.00) scale(1.0389 1)" font-size="33.5" text-anchor="end" fill="#737373">0.5</text>
<text transform="translate(1135.99 2116.90) scale(0.9952 1)" font-size="33.5" text-anchor="end" fill="#737373">0.0</text>
<text transform="translate(1136.01 2289.20) scale(1.0076 1)" font-size="33.5" text-anchor="end" fill="#737373">-0.5</text>
<text transform="translate(1191.59 1811.10) scale(1.0546 1)" font-size="50" text-anchor="start" fill="#000"><tspan font-weight="bold">h</tspan>)</text>
<text transform="translate(1301.96 2338.30) scale(1.0341 1)" font-size="32.5" text-anchor="middle" fill="#6a6a6a">resistant-resistant</text>
<text transform="translate(1569.73 2338.20) scale(1.0283 1)" font-size="32.5" text-anchor="middle" fill="#6a6a6a">resilient-resistant</text>
<text transform="translate(1835.98 2338.30) scale(1.0285 1)" font-size="32.5" text-anchor="middle" fill="#6a6a6a">resilient-resilient</text>
<text transform="translate(566.45 1716.50) scale(1.1222 1)" font-size="29" text-anchor="middle" fill="#707070">&lt;0.001</text>
<text transform="translate(436.40 1766.90) scale(1.1017 1)" font-size="29" text-anchor="middle" fill="#707070">0.89</text>
<text transform="translate(707.75 1772.50) scale(1.1219 1)" font-size="29" text-anchor="middle" fill="#707070">&lt;0.001</text>
<text transform="translate(1565.65 1716.50) scale(1.1126 1)" font-size="29" text-anchor="middle" fill="#707070">&lt;0.01</text>
<text transform="translate(1435.50 1769.50) scale(1.1352 1)" font-size="29" text-anchor="middle" fill="#707070">0.67</text>
<text transform="translate(1699.45 1766.80) scale(1.1109 1)" font-size="29" text-anchor="middle" fill="#707070">&lt;0.001</text>
</svg></body></html>
